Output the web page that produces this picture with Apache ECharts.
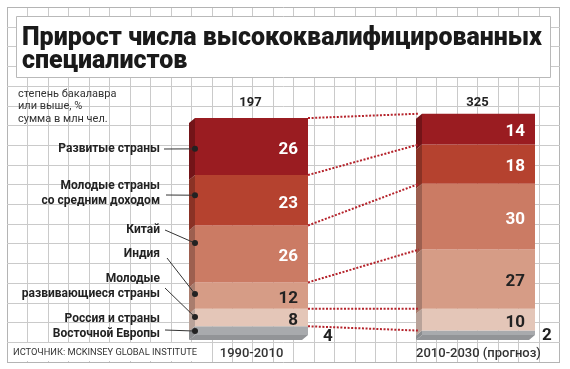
<!DOCTYPE html>
<html><head><meta charset="utf-8">
<script src="https://cdn.jsdelivr.net/npm/echarts@6/dist/echarts.min.js"></script>
<style>html,body{margin:0;padding:0;background:#fff}#c{width:570px;height:369px}</style>
</head><body><div id="c"></div>
<script>
// ---------- data ----------
const titleLines = ['Прирост числа высококвалифицированных', 'специалистов'];
const subtitleLines = ['степень бакалавра', 'или выше, %', 'сумма в млн чел.'];
const sourceText = 'ИСТОЧНИК: MCKINSEY GLOBAL INSTITUTE';
const categories = ['1990-2010', '2010-2030 (прогноз)'];
const totals = [197, 325];
// groups from bottom to top of the stack
const groups = ['Россия и страны\nВосточной Европы', 'Молодые\nразвивающиеся страны', 'Индия', 'Китай', 'Молодые страны\nсо средним доходом', 'Развитые страны'];
const share1990 = [4, 8, 12, 26, 23, 26];
const share2010 = [2, 10, 27, 30, 18, 14];

// ---------- layout / style ----------
const FONT = 'Roboto, "Liberation Sans", sans-serif';
const BAR_W = 113, DX = 6, DY = 5;
const frontColors = ['#a8aaad', '#e4c6b8', '#d69c86', '#cb7b64', '#b5422f', '#9a1c21'];
const sideColors  = ['#8b8d90', '#b9a39a', '#a97d6e', '#9d5f4f', '#8a3225', '#731418'];
const labelColors = ['#222', '#222', '#222', '#fff', '#fff', '#fff'];
const pointerFrac = [0.45, 0.52, 0.56, 0.69, 0.6, 0.46];
const pointerFrom = [[165, 330], [165, 288], [167, 258], [165, 230], [166, 195], [164, 149]];
const labelY = [326, 286, 254, 230, 193, 149];

const shares = [share1990, share2010];
const cum = shares.map(arr => { const c = [0]; arr.forEach(v => c.push(c[c.length - 1] + v)); return c; });

const chart = echarts.init(document.getElementById('c'), null, { renderer: 'canvas' });

// background grid paper
const g = [];
for (let k = 0; k <= 27; k++) {
  const x = Math.round(7 + 20.45 * k) + 0.5;
  const edge = (k === 0 || k === 27);
  g.push({ type: 'line', silent: true, z: -10, shape: { x1: x, y1: 7, x2: x, y2: 362 }, style: { stroke: edge ? '#b4b4b4' : '#cacaca', lineWidth: 1 } });
}
for (let k = 0; k <= 18; k++) {
  const y = Math.round(7 + 19.7 * k) + 0.5;
  const edge = (k === 0 || k === 18);
  g.push({ type: 'line', silent: true, z: -10, shape: { x1: 7, y1: y, x2: 560, y2: y }, style: { stroke: edge ? '#b4b4b4' : '#cacaca', lineWidth: 1 } });
}
// title box
g.push({ type: 'rect', z: -5, shape: { x: 16.5, y: 16.5, width: 534, height: 61 }, style: { fill: '#fff', stroke: '#b9b9b9', lineWidth: 1 } });
g.push({ type: 'text', z: -4, x: 22, y: 38.5, style: { text: titleLines[0], font: '900 25px ' + FONT, fill: '#1a1a1a', verticalAlign: 'middle' } });
g.push({ type: 'text', z: -4, x: 22, y: 62, style: { text: titleLines[1], font: '900 25px ' + FONT, fill: '#1a1a1a', verticalAlign: 'middle' } });
// subtitle
subtitleLines.forEach((t, i) => g.push({ type: 'text', z: -4, x: 18, y: 94 + i * 12.5, style: { text: t, font: '11px ' + FONT, fill: '#333', verticalAlign: 'middle' } }));
// source
g.push({ type: 'rect', z: -5, shape: { x: 8, y: 343, width: 184, height: 18 }, style: { fill: '#fff' } });
g.push({ type: 'text', z: -4, x: 13, y: 352.5, style: { text: sourceText, font: '9.3px ' + FONT, fill: '#333', verticalAlign: 'middle' } });
// group labels
groups.forEach((name, si) => g.push({ type: 'text', z: -4, x: 160, y: labelY[si], style: { text: name, font: 'bold 12px ' + FONT, fill: '#222', align: 'right', verticalAlign: 'middle', lineHeight: 15 } }));

const barSeries = groups.map((name, si) => ({
  type: 'bar', name, stack: 'total', barWidth: BAR_W, z: 3,
  itemStyle: { color: frontColors[si] },
  label: { show: true, position: 'insideRight', distance: 10, offset: [0, 3], color: labelColors[si], fontSize: 17, fontWeight: 'bold', fontFamily: FONT },
  data: shares.map((arr, ci) => {
    const d = { value: arr[si] };
    if (si === 0) d.label = { position: 'right', distance: ci === 0 ? 15 : 7, offset: [0, ci === 0 ? 6 : 3] };
    return d;
  })
}));

const faceData = [];
shares.forEach((arr, ci) => arr.forEach((v, si) => faceData.push([ci, cum[ci][si], cum[ci][si + 1], si])));

const linkData = [];
for (let k = 1; k < cum[0].length; k++) linkData.push([0, cum[0][k], cum[1][k]]);

const pointerData = groups.map((n, si) => [0, cum[0][si] + share1990[si] * pointerFrac[si], si]);

const option = {
  animation: false,
  textStyle: { fontFamily: FONT },
  graphic: g,
  grid: { left: 138, width: 454, top: 94, bottom: 34, containLabel: false, outerBoundsMode: 'none' },
  xAxis: {
    type: 'category', data: categories,
    axisLine: { show: false }, axisTick: { show: false }, splitLine: { show: false },
    axisLabel: { margin: 12, fontSize: 13, color: '#333', fontFamily: FONT, fontWeight: 500 }
  },
  yAxis: { type: 'value', min: 0, max: 110, show: false, splitLine: { show: false } },
  series: [
    ...barSeries,
    {
      type: 'custom', z: 3, data: faceData, encode: { x: 0, y: [1, 2] },
      renderItem: (p, api) => {
        const ci = api.value(0), si = api.value(3);
        const pb = api.coord([ci, api.value(1)]), pt = api.coord([ci, api.value(2)]);
        const xl = pb[0] - BAR_W / 2;
        const ch = [{ type: 'polygon', shape: { points: [[xl, pt[1]], [xl, pb[1]], [xl - DX, pb[1] + DY], [xl - DX, pt[1] + DY]] }, style: { fill: sideColors[si] } }];
        if (si === 0) ch.push({ type: 'polygon', shape: { points: [[xl, pb[1]], [xl + BAR_W, pb[1]], [xl + BAR_W - DX, pb[1] + DY], [xl - DX, pb[1] + DY]] }, style: { fill: '#929497' } });
        return { type: 'group', children: ch };
      }
    },
    {
      type: 'custom', z: 4, data: linkData, encode: { x: 0, y: [1, 2] },
      renderItem: (p, api) => {
        const a = api.coord([0, api.value(1)]), b = api.coord([1, api.value(2)]);
        return { type: 'line', shape: { x1: a[0] + BAR_W / 2, y1: a[1], x2: b[0] - BAR_W / 2 - 3, y2: b[1] }, style: { stroke: '#b5232b', lineWidth: 2, lineDash: [2, 1.6] } };
      }
    },
    {
      type: 'custom', z: 5, data: pointerData, encode: { x: 0, y: 1 },
      renderItem: (p, api) => {
        const pt = api.coord([0, api.value(1)]);
        const x = pt[0] - BAR_W / 2;
        const from = pointerFrom[api.value(2)];
        return { type: 'group', children: [
          { type: 'line', shape: { x1: from[0], y1: from[1], x2: x, y2: pt[1] }, style: { stroke: '#333', lineWidth: 1 } },
          { type: 'circle', shape: { cx: x, cy: pt[1], r: 3 }, style: { fill: '#222' } }
        ] };
      }
    },
    {
      type: 'custom', z: 5, data: totals.map((t, ci) => [ci, t]), encode: { x: 0 },
      renderItem: (p, api) => {
        const pt = api.coord([api.value(0), 0]);
        return { type: 'text', x: pt[0] - 1, y: 103, style: { text: String(api.value(1)), font: 'bold 13px ' + FONT, fill: '#222', align: 'center', verticalAlign: 'middle' } };
      }
    }
  ]
};
chart.setOption(option);
</script>
</body></html>
